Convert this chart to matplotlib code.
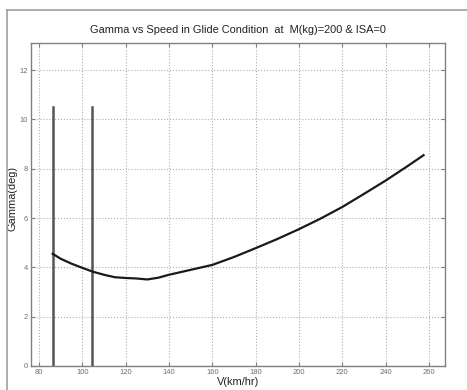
import matplotlib
matplotlib.use("Agg")
import matplotlib.pyplot as plt
from matplotlib.lines import Line2D

speed = [86.3, 90, 95, 100, 105, 110, 115, 120, 125, 130, 135, 140, 150, 160,
         170, 180, 190, 200, 210, 220, 230, 240, 250, 257.5]
gamma = [4.55, 4.35, 4.15, 3.98, 3.82, 3.70, 3.60, 3.57, 3.55, 3.51, 3.58, 3.70,
         3.90, 4.10, 4.42, 4.78, 5.15, 5.55, 5.98, 6.45, 6.98, 7.52, 8.10, 8.55]
vlines_x = [86.3, 104.3]
vline_top = 10.5
xticks = [80, 100, 120, 140, 160, 180, 200, 220, 240, 260]
yticks = [0, 2, 4, 6, 8, 10, 12]

plt.rcParams['font.family'] = ['Liberation Sans', 'DejaVu Sans']

fig = plt.figure(figsize=(4.67, 3.9), dpi=100)
ax = fig.add_axes([31/467, 1-366/390, (445-31)/467, (366-43)/390])

# outer figure frame (top and left)
fig.add_artist(Line2D([7/467, 1], [1-10/390, 1-10/390], transform=fig.transFigure,
                      color='#a0a0a0', lw=1.2))
fig.add_artist(Line2D([7/467, 7/467], [0, 1-10/390], transform=fig.transFigure,
                      color='#a0a0a0', lw=1.2))

for x in vlines_x:
    ax.plot([x, x], [0, vline_top], color='#555555', lw=1.8)
ax.plot(speed, gamma, color='#1a1a1a', lw=1.6)

ax.set_xlim(76.3, 267.4)
ax.set_ylim(0, 13.1)
ax.set_xticks(xticks)
ax.set_yticks(yticks)
ax.grid(True, linestyle=':', color='#b0b0b0', lw=0.8)
ax.tick_params(direction='in', length=3, labelsize=5.5, colors='#808080',
               labelcolor='#707070', top=True, right=True, pad=2)
for s in ax.spines.values():
    s.set_color('#808080')
    s.set_linewidth(1.0)

ax.set_title('Gamma vs Speed in Glide Condition  at  M(kg)=200 & ISA=0',
             fontsize=7.9, color='#222222', pad=7)
ax.set_xlabel('V(km/hr)', fontsize=7.9, color='#222222', labelpad=1)
ax.set_ylabel('Gamma(deg)', fontsize=7.9, color='#222222')
ax.yaxis.set_label_coords((18 - 31) / 414, (366 - 198) / 323)

fig.savefig('out.png', dpi=100)
